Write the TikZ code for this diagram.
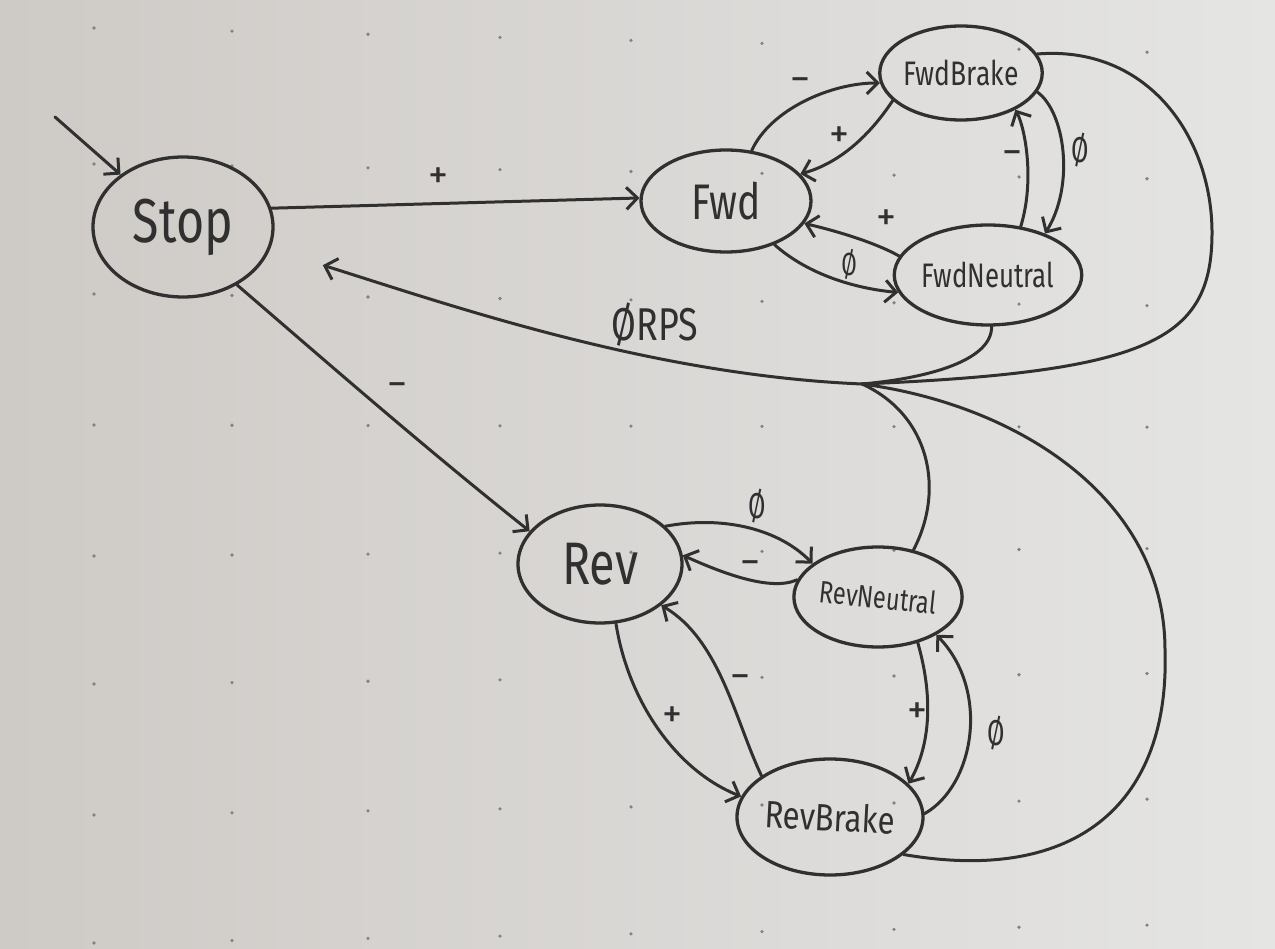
\documentclass[tikz,border=0pt]{standalone}
\usepackage{fontspec}
\setmainfont{Fira Sans}
\usepackage{graphicx}
\usetikzlibrary{shapes.geometric,arrows.meta}
\definecolor{inkc}{RGB}{48,48,48}
\definecolor{boardL}{RGB}{206,202,198}
\definecolor{boardR}{RGB}{229,229,228}
\definecolor{dotc}{RGB}{130,130,130}
\newcommand\hw[3]{\fontsize{#1pt}{#1pt}\selectfont\scalebox{#2}[1]{#3}}
\begin{document}
\begin{tikzpicture}[x=1pt,y=-1pt,
  stnode/.style={ellipse, draw=inkc, line width=3.3pt, inner sep=0pt, text=inkc},
  conn/.style={draw=inkc, line width=3pt, line cap=round, -{Straight Barb[length=11pt,width=22pt]}},
  wire/.style={draw=inkc, line width=3pt, line cap=round},
  lab/.style={text=inkc, inner sep=0pt, font=\fontsize{40pt}{40pt}\selectfont},
  zlab/.style={text=inkc, inner sep=0pt}
]
\useasboundingbox (0,0) rectangle (1275,949);
\shade[left color=boardL, right color=boardR] (0,0) rectangle (1275,949);
% whiteboard grid dots
\foreach \yy/\ss in {28/0.023,164/0.014,294/0.011,425/0.002,556/-0.007,684/-0.01,815/-0.015,943/-0.017}{
  \foreach \xx in {94,232,368,500,631,762,894,1019,1147}{
    \fill[dotc] (\xx,{\yy+\ss*(\xx-94)}) circle (1.8pt);
  }
}
% states
\node[stnode, minimum width=180pt, minimum height=140pt] (Stop) at (183,227) {\hw{62}{0.78}{Stop}};
\node[stnode, minimum width=170pt, minimum height=102pt] (Fwd) at (726,201) {\hw{50}{0.78}{Fwd}};
\node[stnode, minimum width=150pt, minimum height=94pt] (FwdBrake) at (961,73) {\hw{34}{0.78}{FwdBrake}};
\node[stnode, minimum width=170pt, minimum height=100pt] (FwdNeutral) at (988,275) {\hw{34}{0.76}{FwdNeutral}};
\node[stnode, minimum width=164pt, minimum height=118pt] (Rev) at (600,564) {\hw{60}{0.78}{Rev}};
\node[stnode, minimum width=142pt, minimum height=100pt] (RevNeutral) at (878,597) {\rotatebox{-6}{\hw{31}{0.76}{RevNeutral}}};
\node[stnode, minimum width=186pt, minimum height=116pt] (RevBrake) at (830,817) {\rotatebox{-3}{\hw{38}{0.82}{RevBrake}}};
% initial arrow
\coordinate (init) at (55,117);
\draw[conn] (init) -- (Stop.140);
% Stop transitions
\draw[conn] (Stop.12) -- (Fwd.178);
\node[lab] (lSF) at (438,178) {+};
\draw[conn] (Stop.-47) .. controls (330,365) and (425,448) .. (Rev.155);
\node[lab] (lSR) at (397,390) {−};
% forward cluster
\draw[conn] (Fwd.63) .. controls (770,110) and (830,83) .. (FwdBrake.187);
\node[lab] (lFFB) at (800,85) {−};
\draw[conn] (FwdBrake.202) .. controls (870,135) and (840,163) .. (Fwd.20);
\node[lab] (lFBF) at (839,137) {+};
\draw[conn] (FwdBrake.-14) .. controls (1065,112) and (1075,185) .. (FwdNeutral.36);
\node[zlab] (lFBFN) at (1080,150) {\hw{36}{0.7}{Ø}};
\draw[conn] (FwdNeutral.56) .. controls (1035,180) and (1025,128) .. (FwdBrake.-34);
\node[lab] (lFNFB) at (1012,158) {−};
\draw[conn] (FwdNeutral.168) .. controls (880,245) and (845,233) .. (Fwd.-16);
\node[lab] (lFNF) at (886,220) {+};
\draw[conn] (Fwd.-42) .. controls (805,272) and (850,288) .. (FwdNeutral.191);
\node[zlab] (lFFN) at (849,264) {\hw{32}{0.7}{Ø}};
% reverse cluster
\draw[conn] (Rev.30) .. controls (725,515) and (780,530) .. (RevNeutral.153);
\node[zlab] (lRRN) at (757,506) {\hw{36}{0.7}{Ø}};
\draw[conn] (RevNeutral.168) .. controls (770,592) and (720,572) .. (Rev.6);
\node[lab] (lRNR) at (750,568) {−};
\draw[conn] (Rev.-75) .. controls (628,700) and (675,770) .. (RevBrake.167);
\node[lab] (lRRB) at (672,717) {+};
\draw[conn] (RevBrake.149) .. controls (735,720) and (720,640) .. (Rev.-34);
\node[lab] (lRBR) at (740,682) {−};
\draw[conn] (RevNeutral.-49) .. controls (937,710) and (925,755) .. (RevBrake.23);
\node[lab] (lRNRB) at (917,713) {+};
\draw[conn] (RevBrake.2) .. controls (975,785) and (990,690) .. (RevNeutral.-33);
\node[zlab] (lRBRN) at (996,733) {\hw{36}{0.7}{Ø}};
% 0 RPS merge back to Stop
\coordinate (j) at (862,384);
\coordinate (fbR) at (1212,235);
\coordinate (rbR) at (1165,650);
\draw[wire] (FwdNeutral.-86) .. controls (992,360) and (930,378) .. (j);
\draw[wire] (FwdBrake.14) .. controls (1150,45) and (1213,140) .. (fbR) .. controls (1211,340) and (1150,372) .. (j);
\draw[wire] (RevNeutral.53) .. controls (945,490) and (930,415) .. (j);
\draw[wire] (RevBrake.-27) .. controls (1080,885) and (1170,800) .. (rbR) .. controls (1165,500) and (1020,405) .. (j);
\draw[conn, shorten >=55pt] (j) .. controls (650,375) and (450,305) .. (Stop.-14);
\node[text=inkc, inner sep=0pt] (lRPS) at (655,325) {\hw{46}{0.78}{ØRPS}};
\end{tikzpicture}
\end{document}
